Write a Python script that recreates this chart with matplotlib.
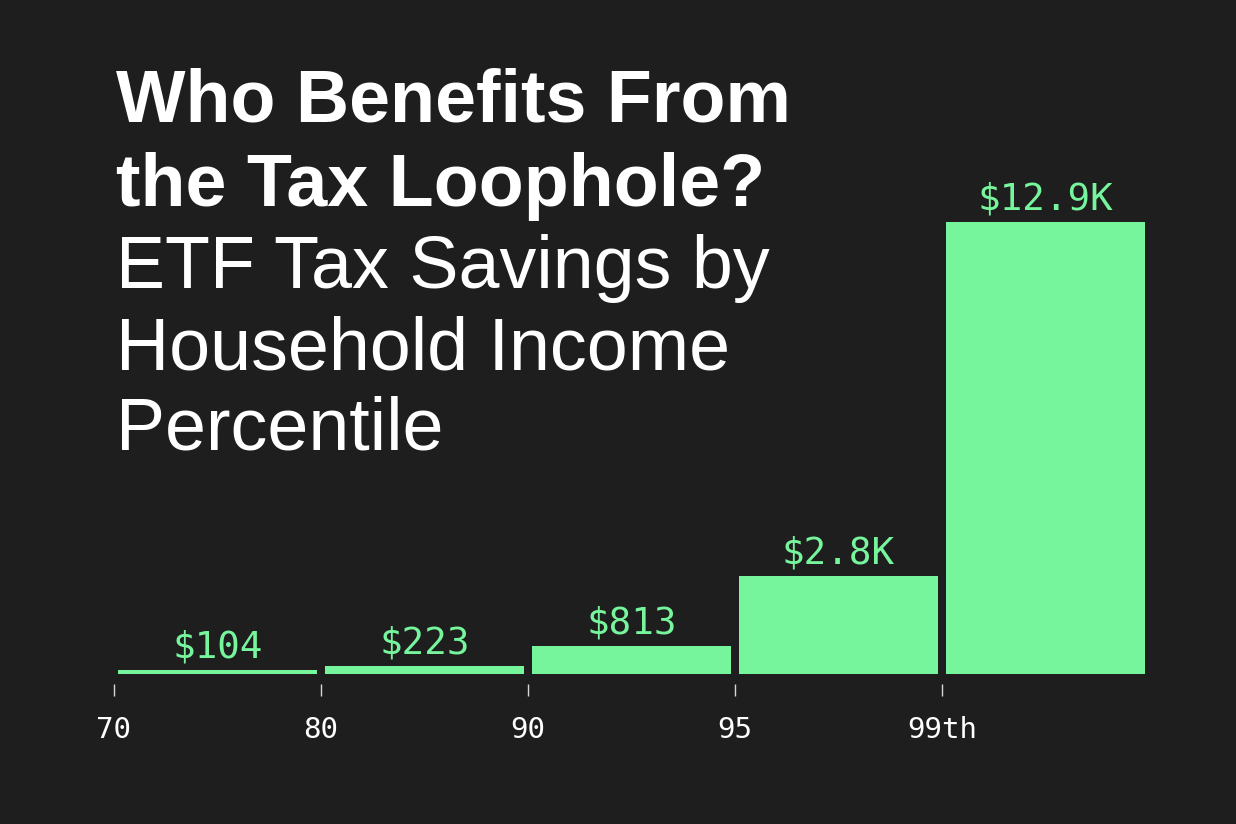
import matplotlib
matplotlib.use("Agg")
import matplotlib.pyplot as plt
from matplotlib.path import Path
import numpy as np

# data
categories = ["70-80", "80-90", "90-95", "95-99", "99-100"]
savings = [104, 223, 813, 2800, 12900]
value_labels = ["$104", "$223", "$813", "$2.8K", "$12.9K"]
tick_labels = ["70", "80", "90", "95", "99th"]

bg = "#1e1e1e"
green = "#76f59d"
W, H = 1236, 824

fig = plt.figure(figsize=(W / 100, H / 100), dpi=100, facecolor=bg)

# axes placed in pixel terms
left, right = 114, 1149
base, top = 674, 674 - 452 * 13000 / 12900
ax = fig.add_axes([left / W, 1 - base / H, (right - left) / W, (base - top) / H])
ax.set_facecolor(bg)

x = np.arange(len(categories))
ax.bar(x, savings, width=0.96, color=green, linewidth=0)
ax.set_xlim(-0.5, len(categories) - 0.5)
ax.set_ylim(0, 13000)

for xi, v, lab in zip(x, savings, value_labels):
    ax.annotate(lab, (xi, v), xytext=(0, 9), textcoords="offset points",
                ha="center", va="baseline", color=green, fontsize=27,
                family="DejaVu Sans Mono")

for s in ax.spines.values():
    s.set_visible(False)
ax.set_yticks([])
ax.set_xticks(np.arange(len(tick_labels)) - 0.5)
ax.set_xticklabels(tick_labels, family="DejaVu Sans Mono", fontsize=21, color="white")
ax.tick_params(axis="x", colors="white", pad=27)

# tick marks sit a little below the baseline (gap, then short line)
tick_path = Path([(0, -0.45), (0, -1.0)], [Path.MOVETO, Path.LINETO])
for t in ax.xaxis.get_major_ticks():
    t.tick1line.set_marker(tick_path)
    t.tick1line.set_markersize(32)
    t.tick1line.set_markeredgewidth(1)
    t.tick1line.set_markeredgecolor("#d8d8d8")

title_lines = [("Who Benefits From", "bold", 122),
               ("the Tax Loophole?", "bold", 206),
               ("ETF Tax Savings by", "normal", 288),
               ("Household Income", "normal", 369),
               ("Percentile", "normal", 450)]
for txt, wt, yb in title_lines:
    fig.text(116 / W, 1 - yb / H, txt, color="white", fontsize=53, fontweight=wt,
             family="Liberation Sans", va="baseline", ha="left")

fig.savefig("out.png", dpi=100, facecolor=bg)
